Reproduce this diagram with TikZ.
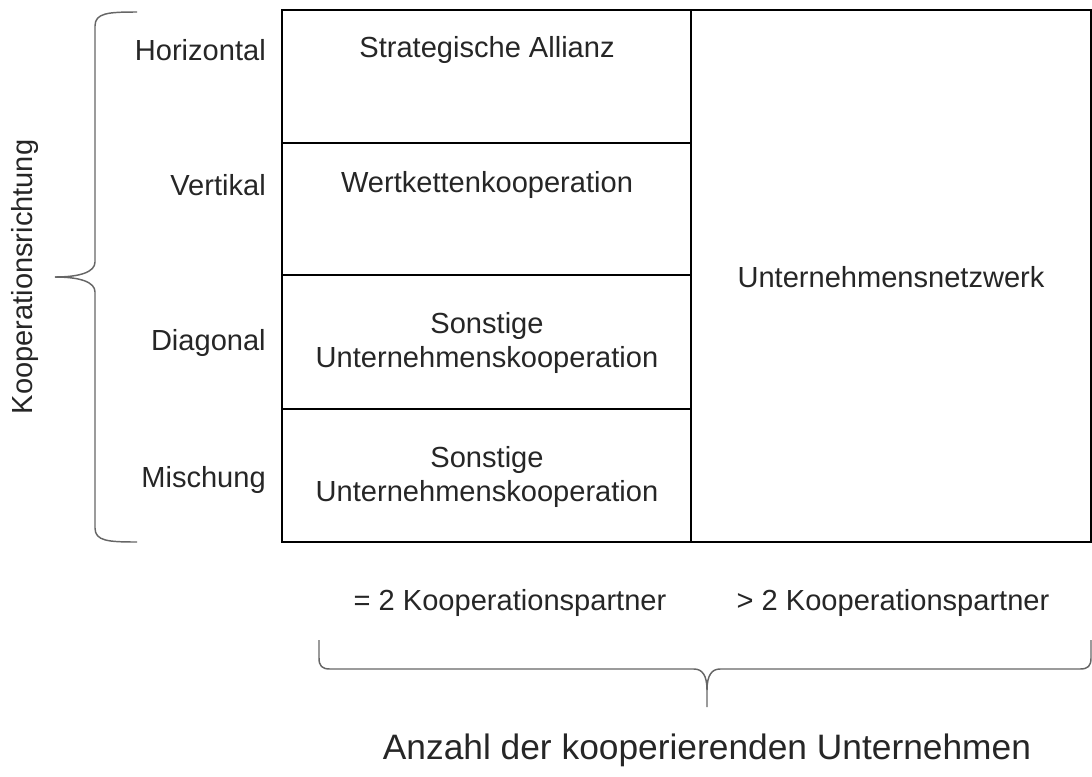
\documentclass[tikz,border=0pt]{standalone}
\usepackage{fontspec}
\setmainfont{Liberation Sans}
\begin{document}
\begin{tikzpicture}[x=0.75pt,y=-0.75pt,
  txt/.style={font=\fontsize{21.8}{25.5}\selectfont, text=black!85, inner sep=0pt, align=center},
  bigtxt/.style={txt, font=\fontsize{26.5}{30}\selectfont},
  rowlbl/.style={txt, anchor=east},
  frame/.style={draw=black, line width=1.7pt},
  brace/.style={draw=black!60, line width=1.1pt, line join=round}]
\useasboundingbox (0,0) rectangle (1092,776);
% table geometry
\coordinate (tl) at (282,10);
\coordinate (br) at (1091,542);
\coordinate (mt) at (691,10);
\coordinate (mb) at (691,542);
\draw[frame] (tl) rectangle (br);
\draw[frame] (mt) -- (mb);
\draw[frame] (282,143) -- (691,143);
\draw[frame] (282,275) -- (691,275);
\draw[frame] (282,409) -- (691,409);
% cell texts
\node[txt] (c1) at (487,50) {Strategische Allianz};
\node[txt] (c2) at (487,185) {Wertkettenkooperation};
\node[txt] (c3) at (487,343) {Sonstige\\Unternehmenskooperation};
\node[txt] (c4) at (487,477) {Sonstige\\Unternehmenskooperation};
\node[txt] (c5) at (891,277) {Unternehmensnetzwerk};
% row labels
\node[rowlbl] (r1) at (266,50) {Horizontal};
\node[rowlbl] (r2) at (266,185) {Vertikal};
\node[rowlbl] (r3) at (266,343) {Diagonal};
\node[rowlbl] (r4) at (266,480) {Mischung};
% left brace
\draw[brace] (137,12) .. controls (108,12) and (95,13) .. (95,26) -- (95,262)
  .. controls (95,272) and (80,277) .. (55,277);
\draw[brace] (137,542) .. controls (108,542) and (95,541) .. (95,528) -- (95,292)
  .. controls (95,282) and (80,277) .. (55,277);
\node[txt, rotate=90] (dir) at (25,277) {Kooperationsrichtung};
% column labels
\node[txt] (k1) at (510,603) {= 2 Kooperationspartner};
\node[txt] (k2) at (893,603) {> 2 Kooperationspartner};
% bottom brace
\draw[brace] (319,640) -- (319,658) .. controls (319,666) and (322,669) .. (330,669) -- (694,669)
  .. controls (702,669) and (707,675) .. (707,690) -- (707,707);
\draw[brace] (1091,640) -- (1091,658) .. controls (1091,666) and (1088,669) .. (1080,669) -- (720,669)
  .. controls (712,669) and (707,675) .. (707,690);
\node[bigtxt] (anz) at (707,750) {Anzahl der kooperierenden Unternehmen};
\end{tikzpicture}
\end{document}
